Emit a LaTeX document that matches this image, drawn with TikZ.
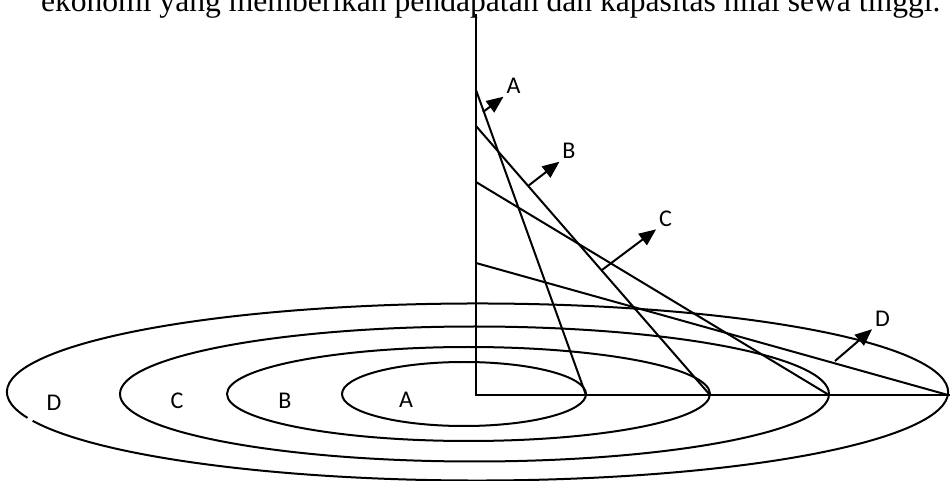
\documentclass[tikz,border=0pt]{standalone}
\usepackage{fontspec}
\setmainfont{Liberation Serif}
\newfontfamily\hurufzona{Carlito}
\usetikzlibrary{arrows.meta}

\begin{document}
\begin{tikzpicture}[
    x=0.5pt, y=-0.5pt,      % 1 satuan = 1 piksel gambar acuan
    line width=1pt,
    >={Triangle[length=8.5pt, width=7pt]},
    zona/.style={font=\hurufzona\fontsize{12}{14}\selectfont, inner sep=1pt}
]
    \useasboundingbox (0,0) rectangle (950,481);
    \clip (0,0) rectangle (950,481);

    % --- baris teks di atas (terpotong) ---
    \node [anchor=base west, inner sep=0pt, font=\fontsize{15.8}{19}\selectfont] (teks) at (40,12)
        {ekonomi yang memberikan pendapatan dan kapasitas nilai sewa tinggi.};

    % --- sumbu ---
    \coordinate (puncak) at (476,14);
    \coordinate (O) at (476,395);
    \coordinate (kanan) at (950,395);
    \draw (puncak) -- (O) -- (kanan);

    % --- elips zona ---
    \draw (464,394) ellipse [x radius=122, y radius=32];
    \draw (468.5,394) ellipse [x radius=241.5, y radius=47];
    \draw (474.5,394) ellipse [x radius=354.5, y radius=67.5];
    % elips D ada celah kecil di kiri bawah
    \draw (477.5,392) ++(163:470.5 and 88.5)
        arc [start angle=163, end angle=521, x radius=470.5, y radius=88.5];

    % --- garis sewa tanah ---
    \coordinate (ujungA) at (586,395);
    \coordinate (ujungB) at (710,395);
    \coordinate (ujungC) at (829,395);
    \coordinate (ujungD) at (948,395);
    \draw (476,90) -- (ujungA);
    \draw (476,126) -- (ujungB);
    \draw (476,182) -- (ujungC);
    \draw (476,263) -- (ujungD);

    % --- label garis dengan panah ---
    \node [zona] (labelA) at (513.5,86) {A};
    \node [zona] (labelB) at (569,151) {B};
    \node [zona] (labelC) at (665.5,218.5) {C};
    \node [zona] (labelD) at (882.5,318.5) {D};

    \coordinate (awalA) at (483,112);
    \coordinate (awalB) at (528,186);
    \coordinate (awalC) at (602,270);
    \coordinate (awalD) at (835,361);
    \draw [->] (awalA) -- (labelA.south west);
    \draw [->] (awalB) -- (labelB.south west);
    \draw [->] (awalC) -- (labelC.south west);
    \draw [->] (awalD) -- (labelD.south west);

    % --- label zona dalam elips ---
    \node [zona] (zonaA) at (406,399.5) {A};
    \node [zona] (zonaB) at (285,400.5) {B};
    \node [zona] (zonaC) at (177,401) {C};
    \node [zona] (zonaD) at (54,403) {D};

\end{tikzpicture}
\end{document}
